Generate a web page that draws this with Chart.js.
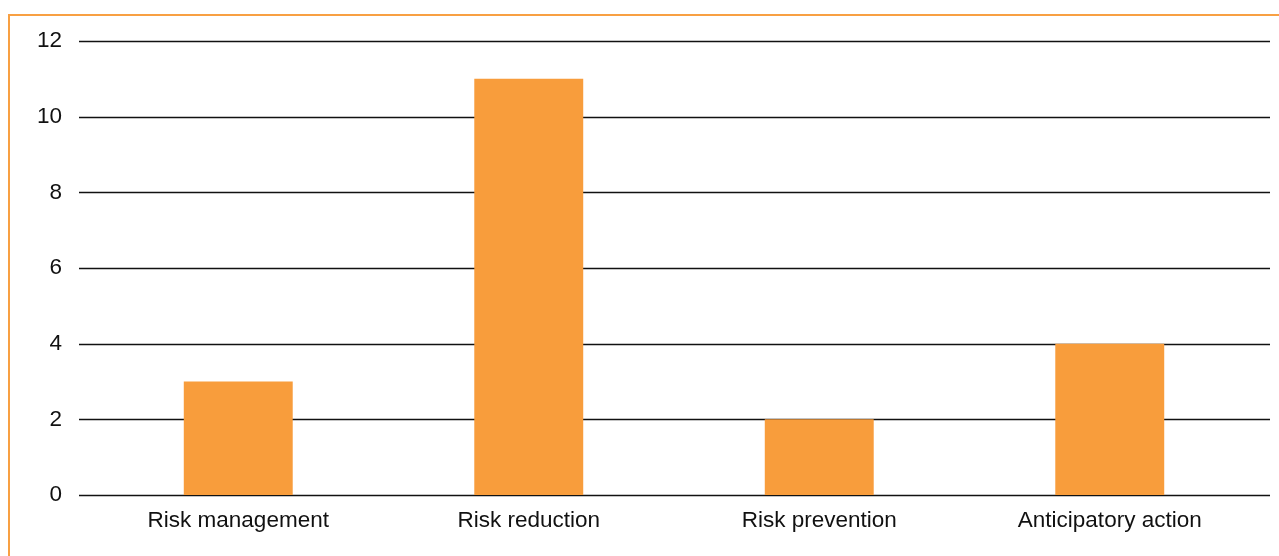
<!DOCTYPE html>
<html>
<head>
<meta charset="utf-8">
<script src="https://cdn.jsdelivr.net/npm/chart.js@4"></script>
<style>
  html, body { margin: 0; padding: 0; background: #fff; width: 1279px; height: 556px; overflow: hidden; }
  #frame { position: absolute; left: 8px; top: 14px; width: 1400px; height: 700px;
           border-left: 2px solid #f8a043; border-top: 2px solid #f8a043; }
  #wrap { position: absolute; left: 0; top: 0; width: 1279px; height: 556px; }
</style>
</head>
<body>
<div id="frame"></div>
<div id="wrap"><canvas id="c" width="1279" height="556"></canvas></div>
<script>
const categories = ['Risk management', 'Risk reduction', 'Risk prevention', 'Anticipatory action'];
const counts = [3, 11, 2, 4];
const yTicks = [0, 2, 4, 6, 8, 10, 12];

const FONT = { family: '"Liberation Sans", Arial, Helvetica, sans-serif', size: 22.5 };

// Horizontal rules at every y tick, running a little past the category area on both sides
const gridRules = {
  id: 'gridRules',
  beforeDatasetsDraw(chart) {
    const { ctx, chartArea, scales } = chart;
    ctx.save();
    ctx.strokeStyle = '#111';
    ctx.lineWidth = 1.3;
    yTicks.forEach(v => {
      const y = Math.round(scales.y.getPixelForValue(v)) + 0.5;
      ctx.beginPath();
      ctx.moveTo(chartArea.left - 14, y);
      ctx.lineTo(chartArea.right + 15, y);
      ctx.stroke();
    });
    ctx.restore();
  }
};

new Chart(document.getElementById('c'), {
  type: 'bar',
  data: {
    labels: categories,
    datasets: [{
      data: counts,
      backgroundColor: '#f89d3c',
      borderWidth: 0,
      categoryPercentage: 1,
      barPercentage: 0.375
    }]
  },
  options: {
    responsive: false,
    animation: false,
    devicePixelRatio: 1,
    layout: { padding: { top: 41, right: 24, bottom: 0, left: 0 } },
    plugins: { legend: { display: false }, tooltip: { enabled: false } },
    scales: {
      x: {
        grid: { display: false, drawTicks: false },
        border: { display: false },
        ticks: { color: '#111', font: FONT, padding: 12, maxRotation: 0 },
        afterFit(s) { s.height = 61; }
      },
      y: {
        min: 0, max: 12,
        afterBuildTicks(s) { s.ticks = yTicks.map(v => ({ value: v })); },
        grid: { display: false, drawTicks: true, tickLength: 31 },
        border: { display: false },
        ticks: { color: '#111', font: FONT, padding: 0 },
        afterFit(s) { s.width = 93; }
      }
    }
  },
  plugins: [gridRules]
});
</script>
</body>
</html>
